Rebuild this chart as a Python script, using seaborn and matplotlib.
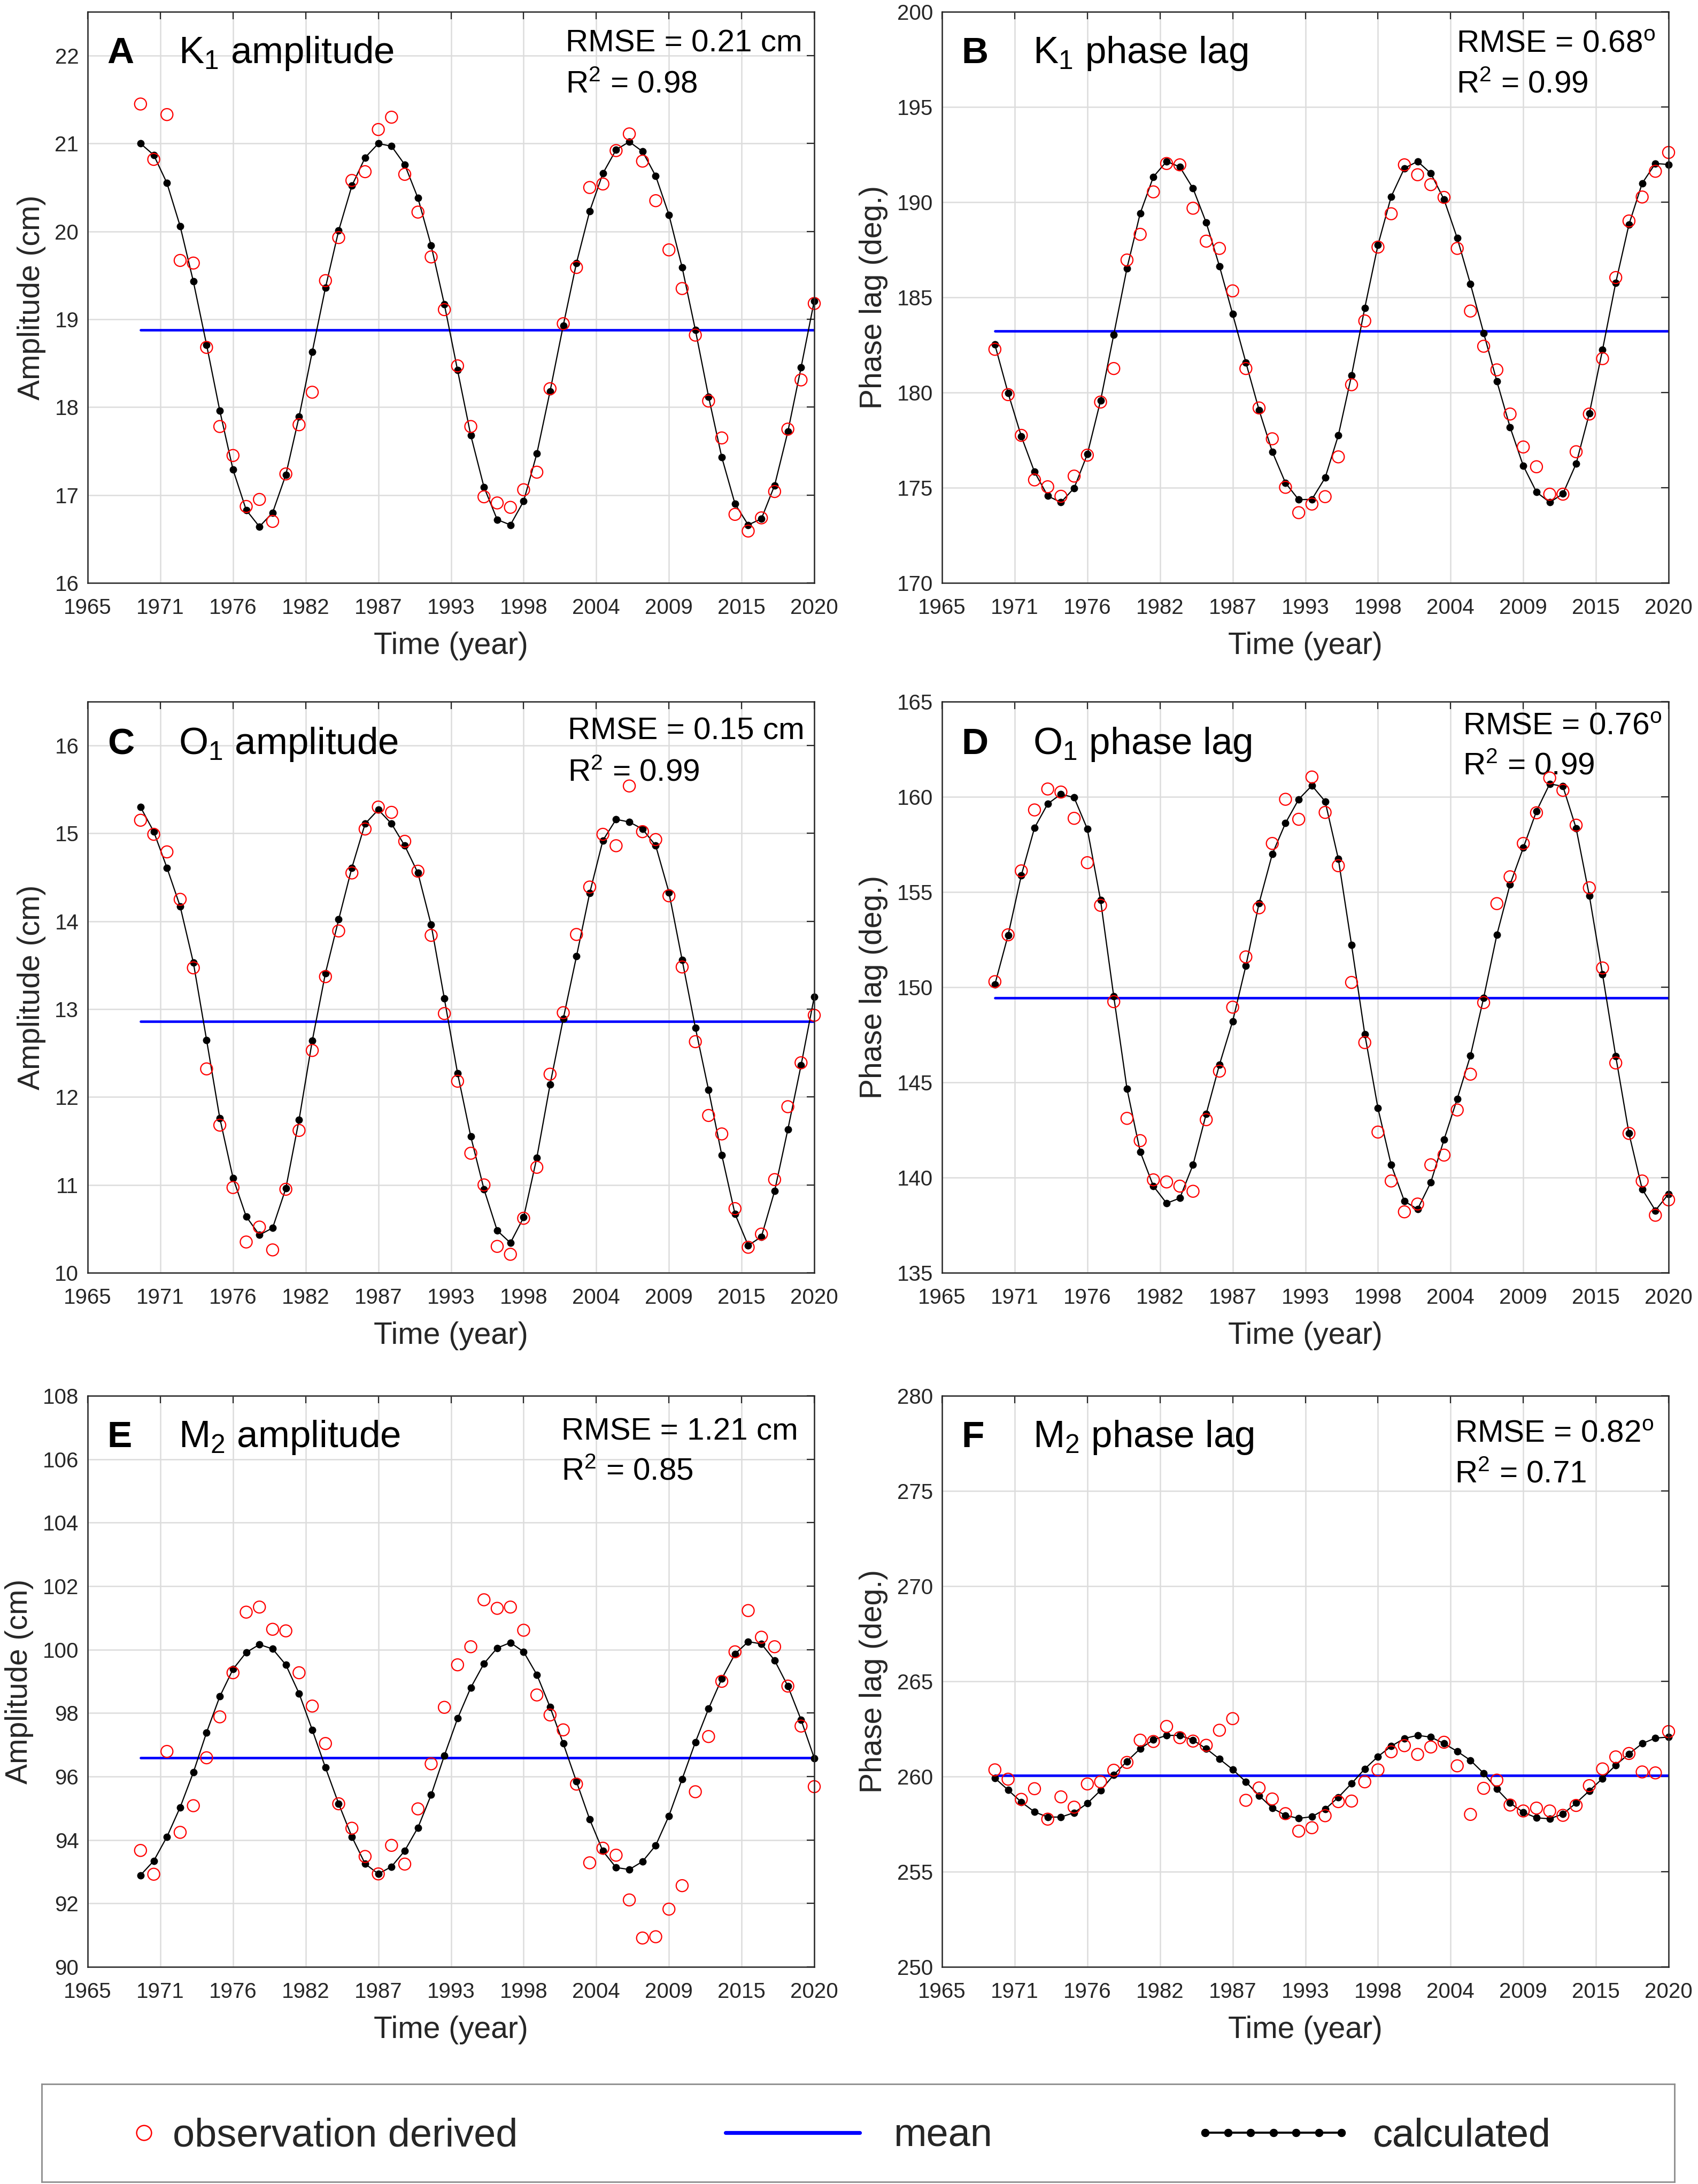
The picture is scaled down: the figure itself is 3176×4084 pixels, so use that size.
import numpy as np
import pandas as pd
import matplotlib
matplotlib.use('Agg')
import matplotlib.pyplot as plt
import seaborn as sns
from matplotlib.lines import Line2D

# yearly values 1969-2020
years = list(range(1969, 2021))

k1_amp_obs = [21.45, 20.82, 21.33, 19.67, 19.64, 18.68, 17.78, 17.45, 16.87, 16.95,
              16.70, 17.24, 17.80, 18.17, 19.44, 19.93, 20.58, 20.68, 21.16, 21.30,
              20.65, 20.22, 19.71, 19.11, 18.47, 17.78, 16.98, 16.91, 16.86, 17.06,
              17.26, 18.21, 18.95, 19.59, 20.50, 20.54, 20.92, 21.11, 20.80, 20.35,
              19.79, 19.35, 18.82, 18.07, 17.65, 16.78, 16.59, 16.74, 17.04, 17.75,
              18.31, 19.18]
k1_amp_calc = [21.00, 20.87, 20.55, 20.06, 19.43, 18.71, 17.96, 17.29, 16.83, 16.64,
               16.80, 17.23, 17.89, 18.63, 19.36, 20.01, 20.52, 20.84, 21.00, 20.97,
               20.76, 20.38, 19.84, 19.17, 18.42, 17.68, 17.09, 16.72, 16.66, 16.93,
               17.47, 18.18, 18.93, 19.64, 20.23, 20.66, 20.93, 21.02, 20.91, 20.63,
               20.19, 19.59, 18.88, 18.12, 17.43, 16.90, 16.66, 16.73, 17.11, 17.72,
               18.45, 19.21]
k1_amp_mean = 18.88

k1_pha_obs = [182.27, 179.89, 177.75, 175.41, 175.05, 174.55, 175.61, 176.71, 179.50, 181.26,
              186.96, 188.31, 190.54, 192.03, 191.96, 189.68, 187.95, 187.57, 185.34, 181.26,
              179.19, 177.57, 175.02, 173.69, 174.14, 174.53, 176.62, 180.41, 183.76, 187.64,
              189.39, 191.96, 191.44, 190.92, 190.25, 187.57, 184.28, 182.43, 181.19, 178.87,
              177.14, 176.10, 174.66, 174.66, 176.89, 178.87, 181.78, 186.04, 189.01, 190.27,
              191.62, 192.61]
k1_pha_calc = [182.52, 179.98, 177.70, 175.83, 174.57, 174.23, 174.98, 176.76, 179.57, 183.04,
               186.53, 189.41, 191.33, 192.14, 191.85, 190.72, 188.92, 186.64, 184.12, 181.58,
               179.08, 176.89, 175.25, 174.37, 174.39, 175.52, 177.75, 180.90, 184.44, 187.75,
               190.29, 191.78, 192.14, 191.51, 190.14, 188.11, 185.70, 183.13, 180.59, 178.18,
               176.15, 174.77, 174.23, 174.68, 176.26, 178.90, 182.25, 185.77, 188.83, 190.99,
               192.03, 191.98]
k1_pha_mean = 183.22

o1_amp_obs = [15.15, 14.99, 14.79, 14.25, 13.47, 12.32, 11.68, 10.97, 10.35, 10.52,
              10.26, 10.95, 11.62, 12.53, 13.37, 13.89, 14.55, 15.05, 15.30, 15.24,
              14.91, 14.57, 13.84, 12.95, 12.18, 11.36, 11.00, 10.30, 10.21, 10.62,
              11.20, 12.26, 12.96, 13.85, 14.39, 14.99, 14.86, 15.54, 15.02, 14.93,
              14.29, 13.48, 12.63, 11.79, 11.58, 10.73, 10.29, 10.44, 11.06, 11.89,
              12.39, 12.93]
o1_amp_calc = [15.30, 15.02, 14.61, 14.17, 13.53, 12.65, 11.76, 11.08, 10.64, 10.43,
               10.51, 10.96, 11.74, 12.64, 13.41, 14.02, 14.61, 15.11, 15.27, 15.11,
               14.86, 14.55, 13.96, 13.12, 12.27, 11.55, 10.95, 10.48, 10.34, 10.63,
               11.31, 12.14, 12.89, 13.60, 14.32, 14.92, 15.16, 15.13, 15.05, 14.86,
               14.33, 13.56, 12.79, 12.08, 11.34, 10.67, 10.31, 10.41, 10.93, 11.63,
               12.36, 13.14]
o1_amp_mean = 12.86

o1_pha_obs = [150.29, 152.75, 156.11, 159.31, 160.41, 160.25, 158.87, 156.54, 154.30, 149.24,
              143.11, 141.94, 139.88, 139.77, 139.55, 139.28, 143.04, 145.59, 148.95, 151.59,
              154.17, 157.55, 159.87, 158.82, 161.04, 159.18, 156.38, 150.25, 147.09, 142.39,
              139.82, 138.20, 138.61, 140.67, 141.18, 143.55, 145.43, 149.19, 154.39, 155.80,
              157.55, 159.16, 160.99, 160.34, 158.51, 155.22, 151.01, 146.02, 142.32, 139.82,
              138.02, 138.83]
o1_pha_calc = [150.14, 152.73, 155.87, 158.37, 159.63, 160.14, 159.96, 158.31, 154.57, 149.51,
               144.67, 141.36, 139.55, 138.65, 138.92, 140.67, 143.35, 145.93, 148.21, 151.12,
               154.41, 156.99, 158.62, 159.87, 160.59, 159.76, 156.74, 152.22, 147.54, 143.64,
               140.67, 138.76, 138.34, 139.75, 141.99, 144.14, 146.40, 149.44, 152.75, 155.40,
               157.32, 159.25, 160.68, 160.55, 158.35, 154.81, 150.67, 146.37, 142.32, 139.39,
               138.27, 139.14]
o1_pha_mean = 149.45

m2_amp_obs = [93.67, 92.92, 96.79, 94.24, 95.08, 96.59, 97.88, 99.27, 101.18, 101.34,
              100.64, 100.59, 99.27, 98.22, 97.04, 95.14, 94.37, 93.48, 92.93, 93.83,
              93.24, 94.98, 96.40, 98.18, 99.52, 100.09, 101.57, 101.30, 101.34, 100.61,
              98.57, 97.94, 97.47, 95.76, 93.28, 93.74, 93.52, 92.11, 90.91, 90.95,
              91.82, 92.56, 95.52, 97.26, 99.00, 99.93, 101.23, 100.39, 100.09, 98.85,
              97.59, 95.68]
m2_amp_calc = [92.89, 93.34, 94.10, 95.03, 96.13, 97.39, 98.52, 99.38, 99.91, 100.16,
               100.02, 99.52, 98.62, 97.47, 96.28, 95.14, 94.10, 93.25, 92.93, 93.16,
               93.66, 94.39, 95.42, 96.66, 97.83, 98.80, 99.56, 100.05, 100.22, 99.93,
               99.21, 98.19, 97.04, 95.84, 94.65, 93.65, 93.13, 93.07, 93.32, 93.83,
               94.76, 95.92, 97.08, 98.14, 99.08, 99.86, 100.25, 100.18, 99.66, 98.85,
               97.79, 96.58]
m2_amp_mean = 96.59

m2_pha_obs = [260.35, 259.86, 258.80, 259.36, 257.76, 258.93, 258.39, 259.61, 259.72, 260.33,
              260.74, 261.91, 261.84, 262.63, 262.04, 261.86, 261.64, 262.43, 263.04, 258.75,
              259.40, 258.82, 258.05, 257.13, 257.31, 257.94, 258.68, 258.71, 259.72, 260.35,
              261.30, 261.62, 261.16, 261.55, 261.80, 260.56, 258.01, 259.38, 259.81, 258.50,
              258.19, 258.34, 258.19, 257.96, 258.48, 259.52, 260.40, 261.03, 261.21, 260.24,
              260.19, 262.36]
m2_pha_calc = [259.92, 259.29, 258.66, 258.14, 257.87, 257.87, 258.10, 258.59, 259.27, 260.08,
               260.80, 261.46, 261.93, 262.16, 262.16, 261.91, 261.46, 260.92, 260.37, 259.72,
               259.00, 258.34, 257.96, 257.80, 257.89, 258.28, 258.91, 259.63, 260.40, 261.05,
               261.59, 262.00, 262.16, 262.07, 261.73, 261.32, 260.85, 260.17, 259.34, 258.61,
               258.12, 257.83, 257.78, 258.03, 258.61, 259.25, 259.90, 260.60, 261.19, 261.73,
               262.02, 262.07]
m2_pha_mean = 260.06

panel_letters = ['A', 'B', 'C', 'D', 'E', 'F']
panel_titles = ['K$_1$ amplitude', 'K$_1$ phase lag', 'O$_1$ amplitude',
                'O$_1$ phase lag', 'M$_2$ amplitude', 'M$_2$ phase lag']
rmse_labels = ['RMSE = 0.21 cm', 'RMSE = 0.68$^o$', 'RMSE = 0.15 cm',
               'RMSE = 0.76$^o$', 'RMSE = 1.21 cm', 'RMSE = 0.82$^o$']
r2_labels = ['R$^2$ = 0.98', 'R$^2$ = 0.99', 'R$^2$ = 0.99',
             'R$^2$ = 0.99', 'R$^2$ = 0.85', 'R$^2$ = 0.71']
y_labels = ['Amplitude (cm)', 'Phase lag (deg.)'] * 3
x_tick_labels = ['1965', '1971', '1976', '1982', '1987', '1993',
                 '1998', '2004', '2009', '2015', '2020']

obs_series = [k1_amp_obs, k1_pha_obs, o1_amp_obs, o1_pha_obs, m2_amp_obs, m2_pha_obs]
calc_series = [k1_amp_calc, k1_pha_calc, o1_amp_calc, o1_pha_calc, m2_amp_calc, m2_pha_calc]
means = [k1_amp_mean, k1_pha_mean, o1_amp_mean, o1_pha_mean, m2_amp_mean, m2_pha_mean]

y_limits = [(16, 22.5), (170, 200), (10, 16.5), (135, 165), (90, 108), (250, 280)]
y_steps = [1, 5, 1, 5, 2, 5]
# text placement per panel (axes fraction)
rmse_x = [0.658, 0.708, 0.661, 0.717, 0.652, 0.706]
rmse_y = [0.944, 0.944, 0.948, 0.957, 0.937, 0.933]
r2_y = [0.872, 0.872, 0.875, 0.886, 0.867, 0.862]
title_y = [0.927, 0.927, 0.925, 0.925, 0.927, 0.927]

sns.set_theme(style='white')
plt.rcParams['font.family'] = ['Liberation Sans', 'DejaVu Sans']
plt.rcParams['mathtext.default'] = 'regular'

W, H = 3176, 4084
fig = plt.figure(figsize=(W / 200, H / 200), dpi=200)

lefts = [164, 1762]
tops = [22, 1312, 2610]
ax_w, ax_h = 1359, 1068

dark = '#262626'

for i in range(6):
    col, row = i % 2, i // 2
    ax = fig.add_axes([lefts[col] / W, 1 - (tops[row] + ax_h) / H, ax_w / W, ax_h / H])
    df = pd.DataFrame({'year': years, 'obs': obs_series[i], 'calc': calc_series[i]})
    df['mean'] = means[i]

    sns.lineplot(data=df, x='year', y='mean', ax=ax, color='#0000ff', lw=1.7, zorder=2)
    sns.lineplot(data=df, x='year', y='calc', ax=ax, color='black', lw=0.8,
                 marker='o', markersize=5.0, markeredgewidth=0, zorder=3, clip_on=False)
    sns.scatterplot(data=df, x='year', y='obs', ax=ax, marker='o', s=64,
                    facecolor='none', edgecolor='#ff0000', linewidth=0.8, zorder=4,
                    clip_on=False)

    ax.set_xlim(1965, 2020)
    ax.set_xticks(np.linspace(1965, 2020, 11))
    ax.set_xticklabels(x_tick_labels)
    lo, hi = y_limits[i]
    ax.set_ylim(lo, hi)
    ax.set_yticks(np.arange(lo, hi + 0.01, y_steps[i]))
    ax.set_yticklabels([f'{v:g}' for v in np.arange(lo, hi + 0.01, y_steps[i])])
    ax.grid(True, color='#dcdcdc', lw=0.9)
    ax.set_axisbelow(True)
    ax.tick_params(direction='in', length=5, width=0.8, top=True, right=True,
                   labelsize=14.5, colors=dark, labelcolor=dark)
    ax.tick_params(axis='x', pad=10)
    ax.tick_params(axis='y', pad=6)
    for sp in ax.spines.values():
        sp.set_color(dark)
        sp.set_linewidth(0.9)
        sp.set_zorder(5)
    ax.set_xlabel('Time (year)', fontsize=20.5, color=dark, labelpad=9)
    ax.set_ylabel(y_labels[i], fontsize=20.5, color=dark, labelpad=6)

    ax.text(0.027, title_y[i], panel_letters[i], transform=ax.transAxes, fontsize=25,
            fontweight='bold', va='center', ha='left', color='black')
    ax.text(0.125, title_y[i], panel_titles[i], transform=ax.transAxes, fontsize=25.5,
            va='center', ha='left', color='black')
    ax.text(rmse_x[i], rmse_y[i], rmse_labels[i], transform=ax.transAxes, fontsize=21,
            va='center', ha='left', color='black')
    ax.text(rmse_x[i], r2_y[i], r2_labels[i], transform=ax.transAxes, fontsize=21,
            va='center', ha='left', color='black')

# legend box along the bottom
lax = fig.add_axes([78 / W, 4 / H, (3132 - 78) / W, (4080 - 3897) / H])
lax.set_xticks([])
lax.set_yticks([])
lax.set_facecolor('white')
for sp in lax.spines.values():
    sp.set_color('#8c8c8c')
    sp.set_linewidth(1.0)

leg_fs = 26.6
h_obs = Line2D([], [], ls='none', marker='o', ms=10, mfc='none', mec='#ff0000', mew=0.9)
h_mean = Line2D([], [], color='#0000ff', lw=2.6)
h_calc = Line2D([], [], color='black', lw=1.3, marker='o', ms=5.5, mew=0)

leg_specs = [
    (h_obs, 'observation derived', (244 - 78) / 3054, 0.67, 0.4, 1),
    (h_mean, 'mean', (1335 - 78) / 3054, 4.0, 0.55, 2),
    (h_calc, 'calculated', (2232 - 78) / 3054, 4.05, 0.5, 7),
]
for h, lab, x0, hl, pad, npts in leg_specs:
    lg = lax.legend([h], [lab], loc='center left', bbox_to_anchor=(x0, 0.47),
                    frameon=False, fontsize=leg_fs, handlelength=hl, handletextpad=pad,
                    borderpad=0, borderaxespad=0, numpoints=npts)
    lax.add_artist(lg)

fig.savefig('out.png', dpi=200, facecolor='white')
